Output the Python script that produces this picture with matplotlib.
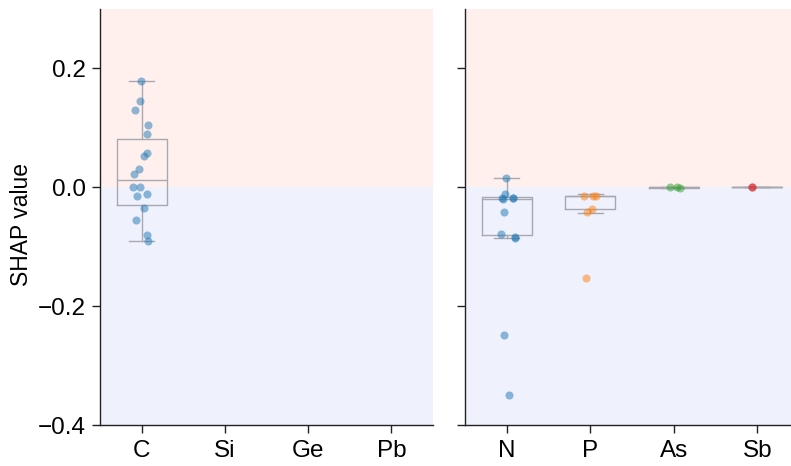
import matplotlib
matplotlib.use("Agg")
import matplotlib.pyplot as plt
import numpy as np

# ---------------- data ----------------
left_cats = ["C", "Si", "Ge", "Pb"]
right_cats = ["N", "P", "As", "Sb"]

c_vals = [0.179, 0.145, 0.130, 0.105, 0.089, 0.058, 0.052, 0.031, 0.022,
          0.000, 0.000, -0.014, -0.012, -0.035, -0.055, -0.080, -0.090]
c_jit = [-0.01, -0.02, -0.08, 0.08, 0.07, 0.07, 0.03, -0.03, -0.09,
         -0.10, -0.02, -0.05, 0.06, 0.03, -0.07, 0.07, 0.08]

n_vals = [0.016, -0.012, -0.018, -0.018, -0.019, -0.018, -0.041, -0.079,
          -0.084, -0.086, -0.248, -0.349]
n_jit = [-0.01, -0.02, -0.06, 0.07, -0.05, 0.08, -0.03, -0.07,
         0.10, 0.10, -0.03, 0.03]

p_vals = [-0.014, -0.014, -0.014, -0.036, -0.042, -0.152]
p_jit = [-0.08, 0.03, 0.07, 0.02, -0.04, -0.05]

as_vals = [0.000, 0.000, -0.002]
as_jit = [-0.05, 0.04, 0.07]

sb_vals = [0.000, 0.000]
sb_jit = [-0.06, -0.06]

# box statistics (q1, median, q3, whisker low, whisker high)
c_box = [-0.029, 0.012, 0.081, -0.090, 0.179]
n_box = [-0.081, -0.019, -0.017, -0.086, 0.016]
p_box = [-0.037, -0.015, -0.014, -0.044, -0.012]
as_box = [-0.001, 0.000, 0.000, -0.002, 0.000]
sb_box = [0.000, 0.000, 0.000, 0.000, 0.000]

yticks = [-0.4, -0.2, 0.0, 0.2]
ytick_labels = ["\u22120.4", "\u22120.2", "0.0", "0.2"]
ylim = (-0.4, 0.3)

# ---------------- plotting ----------------
plt.rcParams['font.family'] = ['Liberation Sans', 'DejaVu Sans']
FS = 17.5

W, H = 791, 466
fig = plt.figure(figsize=(W / 100, H / 100), dpi=100)

def fx(px):
    return px / W

def fy(py):
    return 1 - py / H

top, bottom = 9, 425
axL = fig.add_axes([fx(100), fy(bottom), fx(433 - 100), fy(top) - fy(bottom)])
axR = fig.add_axes([fx(465), fy(bottom), fx(799 - 465), fy(top) - fy(bottom)])

pos_col = "#fff0ee"
neg_col = "#eff1fd"
box_col = "#a8a8b0"
spine_col = "#222222"

def stats(b):
    q1, med, q3, lo, hi = b
    return dict(q1=q1, med=med, q3=q3, whislo=lo, whishi=hi, fliers=[])

def style(ax, cats, labels=True):
    ax.set_xlim(-0.5, len(cats) - 0.5)
    ax.set_ylim(*ylim)
    ax.axhspan(0, ylim[1], color=pos_col, zorder=0, lw=0)
    ax.axhspan(ylim[0], 0, color=neg_col, zorder=0, lw=0)
    ax.set_xticks(range(len(cats)))
    ax.set_xticklabels(cats, fontsize=FS)
    ax.set_yticks(yticks)
    if labels:
        ax.set_yticklabels(ytick_labels, fontsize=FS)
    else:
        ax.set_yticklabels([])
    for s in ["top", "right"]:
        ax.spines[s].set_visible(False)
    for s in ["left", "bottom"]:
        ax.spines[s].set_linewidth(1.0)
        ax.spines[s].set_color(spine_col)
    ax.tick_params(length=6, width=1, color=spine_col)
    ax.tick_params(axis="x", pad=5)
    ax.tick_params(axis="y", pad=4)

def draw_box(ax, pos, b):
    lp = dict(color=box_col, lw=1.0)
    ax.bxp([stats(b)], positions=[pos], widths=0.6, showfliers=False,
           boxprops=lp, whiskerprops=lp, capprops=lp, medianprops=lp,
           manage_ticks=False, zorder=2)

def strip(ax, pos, vals, jit, color):
    ax.scatter(np.array(jit) + pos, vals, s=34, color=color, alpha=0.5,
               linewidths=0, zorder=3)

style(axL, left_cats, True)
style(axR, right_cats, False)

draw_box(axL, 0, c_box)
strip(axL, 0, c_vals, c_jit, "tab:blue")

draw_box(axR, 0, n_box)
strip(axR, 0, n_vals, n_jit, "tab:blue")
draw_box(axR, 1, p_box)
strip(axR, 1, p_vals, p_jit, "tab:orange")
draw_box(axR, 2, as_box)
strip(axR, 2, as_vals, as_jit, "tab:green")
draw_box(axR, 3, sb_box)
strip(axR, 3, sb_vals, sb_jit, "tab:red")

axL.set_ylabel("SHAP value", fontsize=16.5)
# label anchor (right side of rotated text) in axes coordinates
axL.yaxis.set_label_coords((33 - 100) / 333, (425 - 225) / 416)

fig.savefig("out.png", dpi=100)
